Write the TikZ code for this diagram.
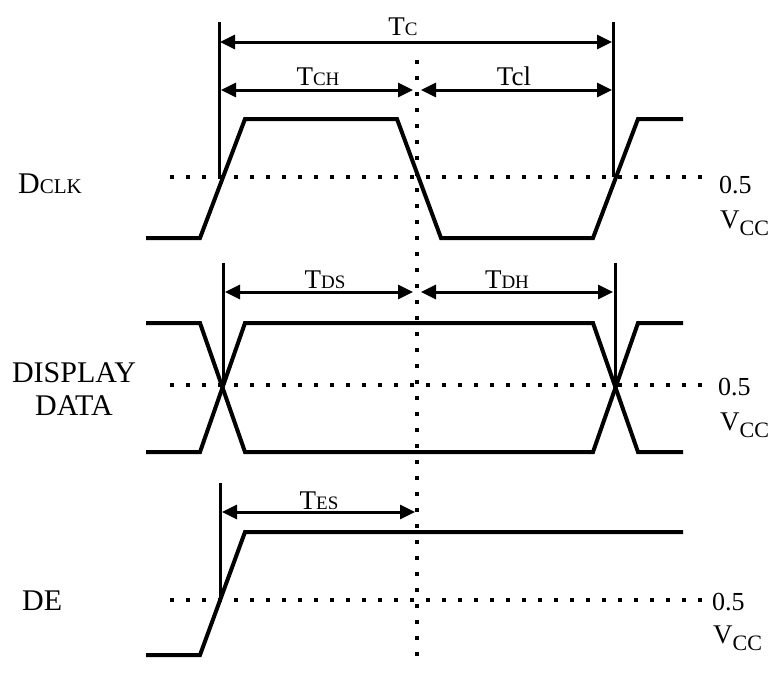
\documentclass[tikz,border=0pt]{standalone}
\usepackage{fontspec}
\setmainfont{Liberation Serif}
\usetikzlibrary{arrows.meta}
\begin{document}
\begin{tikzpicture}[x=1pt,y=-1pt,
  sig/.style={line width=4pt, line join=miter},
  vline/.style={line width=3pt},
  dotline/.style={line width=4pt, dash pattern=on 4pt off 12pt},
  dim/.style={line width=3pt, {Triangle[length=15pt,width=14pt]}-{Triangle[length=15pt,width=14pt]}},
  biglab/.style={font=\fontsize{30}{33}\selectfont, inner sep=0pt},
  tlab/.style={font=\fontsize{27}{28}\selectfont, inner sep=0pt, anchor=base},
  vlab/.style={font=\fontsize{26}{26}\selectfont, inner sep=0pt, anchor=base west}]
\useasboundingbox (0,0) rectangle (779,673);
\newcommand{\smc}[1]{{\fontsize{19}{20}\selectfont #1}}
\newcommand{\vccx}{{\fontsize{27}{28}\selectfont V}\raisebox{-7pt}{\fontsize{22}{24}\selectfont CC}}

% dotted reference lines
\draw[dotline] (170,177) -- (708,177);
\draw[dotline] (170,385) -- (708,385);
\draw[dotline] (170,600) -- (708,600);
\draw[dotline] (417,60) -- (417,662);

% signals
\draw[sig] (146,238) -- (200,238) -- (245,119) -- (397,119) -- (441,238) -- (593,238) -- (638,119) -- (683,119);
\draw[sig] (146,323) -- (200,323) -- (245,452) -- (593,452) -- (638,323) -- (683,323);
\draw[sig] (146,452) -- (200,452) -- (245,323) -- (593,323) -- (638,452) -- (683,452);
\draw[sig] (146,655) -- (200,655) -- (245,532) -- (683,532);

% marker lines
\coordinate (c1t) at (219,22); \coordinate (c1b) at (219,177);
\coordinate (c2t) at (613,22); \coordinate (c2b) at (613,177);
\coordinate (d1t) at (223,263); \coordinate (d1b) at (223,385);
\coordinate (d2t) at (615,263); \coordinate (d2b) at (615,385);
\coordinate (e1t) at (220,483); \coordinate (e1b) at (220,600);
\draw[vline] (c1t) -- (c1b);
\draw[vline] (c2t) -- (c2b);
\draw[vline] (d1t) -- (d1b);
\draw[vline] (d2t) -- (d2b);
\draw[vline] (e1t) -- (e1b);

% dimension labels
\node[tlab] (tc) at (403,35) {T\smc{C}};
\node[tlab] (tch) at (318,85) {T\smc{CH}};
\node[tlab] (tcl) at (514,85) {Tcl};
\node[tlab] (tds) at (325,288) {T\smc{DS}};
\node[tlab] (tdh) at (507,288) {T\smc{DH}};
\node[tlab] (tes) at (319,509) {T\smc{ES}};

% dimension arrows
\coordinate (tca) at (220,42); \coordinate (tcb) at (612,42);
\coordinate (tcha) at (221,90); \coordinate (tchb) at (413,90);
\coordinate (tcla) at (421,90); \coordinate (tclb) at (612,90);
\coordinate (tdsa) at (225,292); \coordinate (tdsb) at (413,292);
\coordinate (tdha) at (421,292); \coordinate (tdhb) at (613,292);
\coordinate (tesa) at (222,512); \coordinate (tesb) at (415,512);
\draw[dim] (tca) -- (tcb);
\draw[dim] (tcha) -- (tchb);
\draw[dim] (tcla) -- (tclb);
\draw[dim] (tdsa) -- (tdsb);
\draw[dim] (tdha) -- (tdhb);
\draw[dim] (tesa) -- (tesb);

% signal names
\node[biglab, anchor=base west] (dclk) at (18,193) {D{\fontsize{21}{22}\selectfont CLK}};
\node[biglab, anchor=base, align=center] (disp) at (74,415) {DISPLAY\\DATA};
\node[biglab, anchor=base west] (de) at (22,610) {DE};

% right labels
\node[vlab] (h1) at (719,193) {0.5};
\node[vlab] (v1) at (720,228) {\vccx};
\node[vlab] (h2) at (718,395) {0.5};
\node[vlab] (v2) at (720,430) {\vccx};
\node[vlab] (h3) at (712,610) {0.5};
\node[vlab] (v3) at (713,643) {\vccx};
\end{tikzpicture}
\end{document}
